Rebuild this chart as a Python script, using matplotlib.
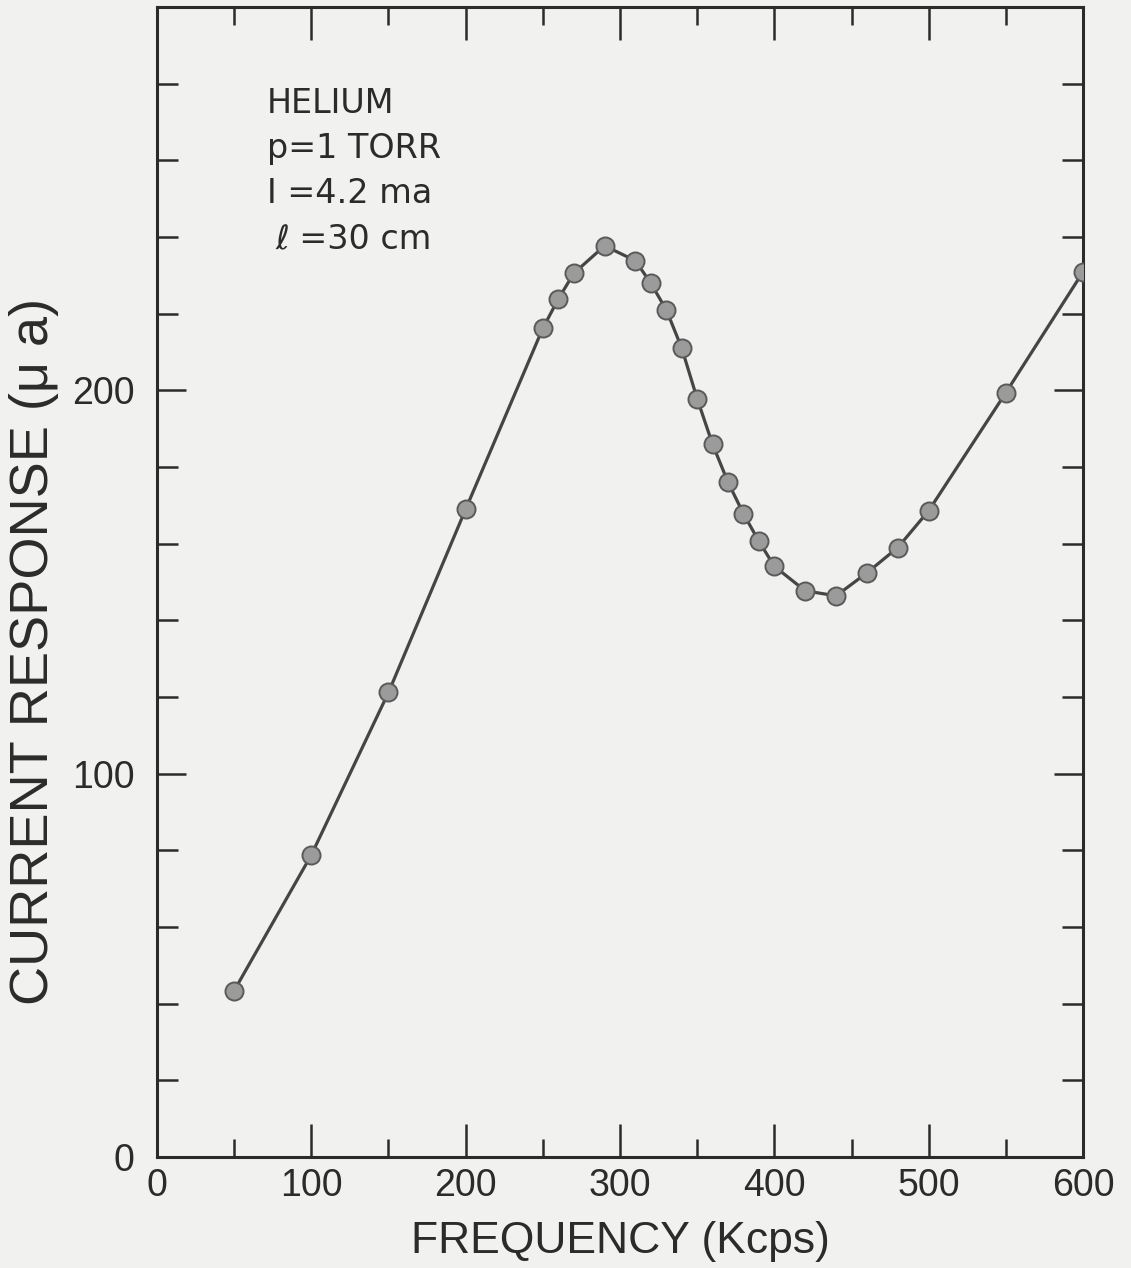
import matplotlib
matplotlib.use("Agg")
import matplotlib.pyplot as plt
from matplotlib.ticker import MultipleLocator

# Measured current response of a helium discharge vs. drive frequency
freq_kcps = [50, 100, 150, 200, 250, 260, 270, 290, 310, 320, 330, 340, 350,
             360, 370, 380, 390, 400, 420, 440, 460, 480, 500, 550, 600]
current_ua = [43.4, 78.8, 121.2, 169.0, 216.2, 223.8, 230.5, 237.7, 233.8,
              227.9, 221.0, 211.0, 197.8, 185.9, 176.0, 167.8, 160.6, 154.1,
              147.7, 146.4, 152.4, 159.0, 168.6, 199.4, 230.9]

x_ticks = [0, 100, 200, 300, 400, 500, 600]
y_tick_labels = {0: "0", 100: "100", 200: "200"}

conditions = ["HELIUM", "p=1 TORR", "I =4.2 ma", "\u2113 =30 cm"]

paper = "#f1f1ef"
ink = "#2b2b2b"
label_font = ["Liberation Sans", "DejaVu Sans"]

fig = plt.figure(figsize=(11.31, 12.68), dpi=100, facecolor=paper)
ax = fig.add_axes([0.1388, 0.0875, 0.8188, 0.907])
ax.set_facecolor(paper)

ax.plot(freq_kcps, current_ua, color="#454545", lw=2.3, zorder=2,
        solid_capstyle="round")
ax.plot(freq_kcps, current_ua, ls="none", marker="o", ms=13,
        mfc="#9b9b9b", mec="#5a5a5a", mew=1.4, zorder=3)

ax.set_xlim(0, 600)
ax.set_ylim(0, 300)

for side in ax.spines.values():
    side.set_color(ink)
    side.set_linewidth(2.2)

ax.xaxis.set_major_locator(MultipleLocator(100))
ax.xaxis.set_minor_locator(MultipleLocator(50))
ax.yaxis.set_major_locator(MultipleLocator(100))
ax.yaxis.set_minor_locator(MultipleLocator(20))

ax.tick_params(axis="x", which="major", direction="in", length=24, width=1.8,
               color=ink, top=True, bottom=True, pad=8, labelsize=27,
               labelcolor=ink)
ax.tick_params(axis="x", which="minor", direction="in", length=13, width=1.8,
               color=ink, top=True, bottom=True)
ax.tick_params(axis="y", which="major", direction="in", length=21, width=1.8,
               color=ink, left=True, right=True, pad=16, labelsize=27,
               labelcolor=ink)
ax.tick_params(axis="y", which="minor", direction="in", length=15, width=1.8,
               color=ink, left=True, right=True)

ax.set_xticks(x_ticks)
ax.set_xticklabels([str(v) for v in x_ticks], family=label_font)
ax.set_yticks(list(y_tick_labels.keys()) + [300])
ax.set_yticklabels(list(y_tick_labels.values()) + [""], family=label_font)

ax.set_xlabel("FREQUENCY (Kcps)", fontsize=32, color=ink, family=label_font,
              labelpad=12)
ax.set_ylabel("CURRENT RESPONSE (\u03bc a)", fontsize=39, color=ink,
              family=label_font)
ax.yaxis.set_label_coords(-0.106, 0.44)

# Operating conditions block in the upper-left corner
line_y = [1268 - 113, 1268 - 158, 1268 - 203, 1268 - 248]
line_x = [267, 267, 267, 275]
for txt, xp, yp in zip(conditions, line_x, line_y):
    fig.text(xp / 1131, yp / 1268, txt, fontsize=24, color=ink,
             family=["DejaVu Sans"], ha="left", va="baseline")

fig.savefig("out.png", dpi=100, facecolor=paper)
